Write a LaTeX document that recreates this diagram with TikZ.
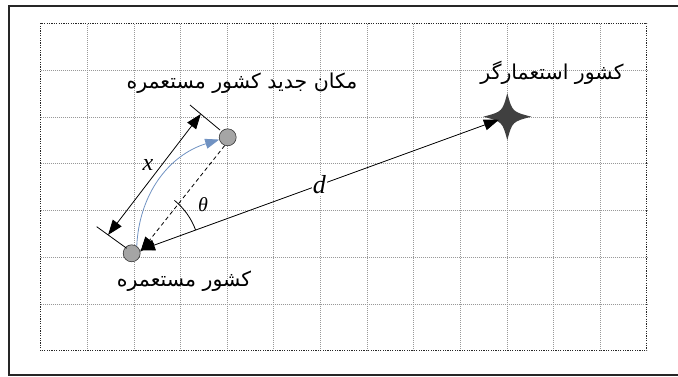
\documentclass[tikz,border=0pt]{standalone}
\usepackage{fontspec}
\setmainfont{Liberation Serif}
\newfontfamily\fafont[Script=Arabic]{DejaVu Sans}
\TeXXeTstate=1
\usetikzlibrary{arrows.meta,calc}
\definecolor{blueline}{HTML}{7092C2}
\definecolor{starfill}{HTML}{404040}
\definecolor{dotfill}{HTML}{A5A5A5}
\begin{document}
\begin{tikzpicture}[x=1pt,y=1pt,
  gridline/.style={black!40, line width=0.5pt, dash pattern=on 1pt off 1pt},
  frameline/.style={black!85, line width=1.6pt},
  boxline/.style={black!85, line width=0.8pt, dash pattern=on 1.2pt off 1.2pt},
  colony/.style={circle, draw=black!80, fill=dotfill, line width=0.6pt, minimum size=17pt, inner sep=0pt},
  starnode/.style={circle, minimum size=17.5pt, inner sep=0pt},
  conn/.style={black, line width=0.8pt},
  bigtip/.tip={Triangle[length=15pt,width=11pt]},
  bluetip/.tip={Triangle[length=14pt,width=10pt]},
  fatext/.style={font=\fafont\fontsize{20.5}{24}\selectfont, inner sep=0pt},
  latlabel/.style={font=\fontsize{24}{28}\selectfont\itshape, inner sep=1pt}
]
\useasboundingbox (0,0) rectangle (678,376);
% outer frame
\draw[frameline] (679,370) -- (9,370) -- (9,1) -- (679,1);
% grid
\foreach \i in {1,...,12} \draw[gridline] ({40.5+\i*46.63},25.3) -- ({40.5+\i*46.63},352.7);
\foreach \j in {1,...,6} \draw[gridline] (40.5,{25.3+\j*46.77}) -- (646.7,{25.3+\j*46.77});
\draw[boxline] (40.5,25.3) rectangle (646.7,352.7);

% nodes
\node[colony] (col) at (131.7,122.7) {};
\node[colony] (new) at (227.7,238.7) {};
\node[starnode] (star) at (507.3,259.3) {};
\fill[starfill] ($(star)+(24,0)$) .. controls ($(star)+(5,5)$) .. ($(star)+(0,23.5)$)
  .. controls ($(star)+(-5,5)$) .. ($(star)+(-24,0)$)
  .. controls ($(star)+(-5,-5)$) .. ($(star)+(0,-23.5)$)
  .. controls ($(star)+(5,-5)$) .. cycle;

% labels
\node[fatext] (lnew) at (242,293) {\beginR مکان جدید کشور مستعمره\endR};
\node[fatext] (lcol) at (184,95) {\beginR کشور مستعمره\endR};
\node[fatext] (lstar) at (552,303) {\beginR کشور استعمارگر\endR};

% d line
\draw[conn, {bigtip}-{bigtip}] (col) -- node[latlabel, fill=white, font=\fontsize{26}{30}\selectfont\itshape] (dlab) {d} (star);
% dashed line
\draw[conn, dash pattern=on 4pt off 3pt, -{bigtip}] (new.250) -- (col.10);
% blue curve
\draw[blueline, line width=0.8pt, -{bluetip}] (col.55) to[bend left=35] (new.195);
% angle arc
\draw[conn] ([shift={(20:68)}]col.center) arc[start angle=20, end angle=51, radius=68];
\node[latlabel, font=\fontsize{20}{24}\selectfont\itshape] (theta) at (203,171) {θ};

% x dimension
\coordinate (a1) at (190,271);
\coordinate (a2) at (220,246);
\coordinate (b1) at (96.7,149.3);
\coordinate (b2) at (126.7,127.7);
\coordinate (t1) at ($(a1)!0.36!(a2)$);
\coordinate (t2) at ($(b1)!0.38!(b2)$);
\draw[conn] (a1) -- (a2);
\draw[conn] (b1) -- (b2);
\draw[conn, {bigtip}-{bigtip}] (t2) -- (t1);
\node[latlabel] (xlab) at (148,211) {x};
\end{tikzpicture}
\end{document}
